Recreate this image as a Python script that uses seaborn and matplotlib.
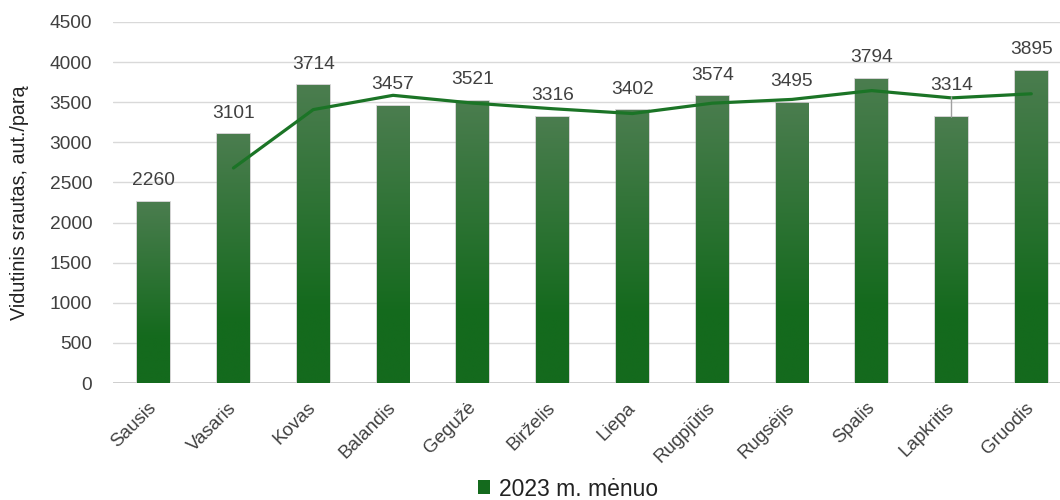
import numpy as np
import matplotlib
matplotlib.use("Agg")
import matplotlib.pyplot as plt
import seaborn as sns
from matplotlib.patches import Patch
from matplotlib.colors import to_rgb

months = ["Sausis", "Vasaris", "Kovas", "Balandis", "Gegužė", "Birželis",
          "Liepa", "Rugpjūtis", "Rugsėjis", "Spalis", "Lapkritis", "Gruodis"]
values = [2260, 3101, 3714, 3457, 3521, 3316, 3402, 3574, 3495, 3794, 3314, 3895]
# trend line (2-month moving average), starting at Vasaris
trend = [2680, 3408, 3586, 3489, 3419, 3359, 3488, 3535, 3645, 3554, 3605]
y_ticks = [0, 500, 1000, 1500, 2000, 2500, 3000, 3500, 4000, 4500]
y_label = "Vidutinis srautas, aut./parą"
legend_label = "2023 m. mėnuo"

sns.set_theme(style="white")
plt.rcParams["font.family"] = ["Liberation Sans", "DejaVu Sans"]

TEXT = "#404040"
TOP = "#4b7d4f"
BOT = "#146a1d"
LINE = "#1b7426"

fig = plt.figure(figsize=(10.6, 5), dpi=100)
ax = fig.add_axes([113 / 1060, 1 - 383 / 500, (1060 - 113) / 1060, (383 - 22) / 500])

sns.barplot(x=months, y=values, ax=ax, color=BOT, width=0.41, saturation=1)

# gradient fill clipped to each bar
c_top = np.array(to_rgb(TOP))
c_bot = np.array(to_rgb(BOT))
t = np.linspace(0, 1, 256)[:, None]
t = np.clip(t / 0.75, 0, 1)
grad = (c_top[None, :] * (1 - t) + c_bot[None, :] * t)[:, None, :]
for p in ax.patches:
    x0, w, h = p.get_x(), p.get_width(), p.get_height()
    p.set_edgecolor((0.55, 0.55, 0.55, 0.45))
    p.set_linewidth(1.2)
    im = ax.imshow(grad, extent=[x0, x0 + w, 0, h], aspect="auto",
                   origin="upper", zorder=p.get_zorder() + 0.1, interpolation="bilinear")
    im.set_clip_path(p)

sns.lineplot(x=np.arange(1, len(months)), y=trend, ax=ax, color=LINE, lw=2.3,
             zorder=5)

FS = 13.8
# data labels
for i, v in enumerate(values):
    if months[i] == "Lapkritis":
        ax.annotate(str(v), xy=(i, v), xytext=(0, 17), textcoords="offset points",
                    ha="center", va="bottom", fontsize=FS, color=TEXT, zorder=6,
                    arrowprops=dict(arrowstyle="-", color="#a0a0a0", lw=1,
                                    shrinkA=0, shrinkB=0,
                                    relpos=(0.5, 0)))
    else:
        ax.annotate(str(v), xy=(i, v), xytext=(0, 9), textcoords="offset points",
                    ha="center", va="bottom", fontsize=FS, color=TEXT, zorder=6)

ax.set_xlim(-0.51, 11.36)
ax.set_ylim(0, 4500)
ax.set_yticks(y_ticks)
ax.set_yticklabels([str(v) for v in y_ticks], fontsize=FS, color=TEXT)
ax.yaxis.grid(True, color="#d9d9d9", lw=1)
ax.set_axisbelow(True)
for s in ax.spines.values():
    s.set_visible(False)
ax.axhline(0, color="#c8c8c8", lw=1.2, zorder=1)
ax.tick_params(axis="y", length=0, pad=15)
ax.tick_params(axis="x", length=0, pad=16)
ax.set_xticks(range(len(months)))
ax.set_xticklabels(months, rotation=45, ha="right", va="center",
                   rotation_mode="anchor", fontsize=13.5, color=TEXT)
ax.set_xlabel("")
ax.set_ylabel(y_label, fontsize=14.2, color="#222222")
ax.yaxis.set_label_coords(-(113 - 29) / (1060 - 113), 0.5)

handle = Patch(facecolor=BOT, edgecolor="none")
fig.legend([handle], [legend_label], loc="center",
           bbox_to_anchor=(568 / 1060, 1 - 489 / 500), frameon=False,
           fontsize=16.5, handlelength=0.55, handleheight=0.55, handletextpad=0.4,
           labelcolor="#222222", borderpad=0.1)

fig.savefig("out.png", dpi=100)
